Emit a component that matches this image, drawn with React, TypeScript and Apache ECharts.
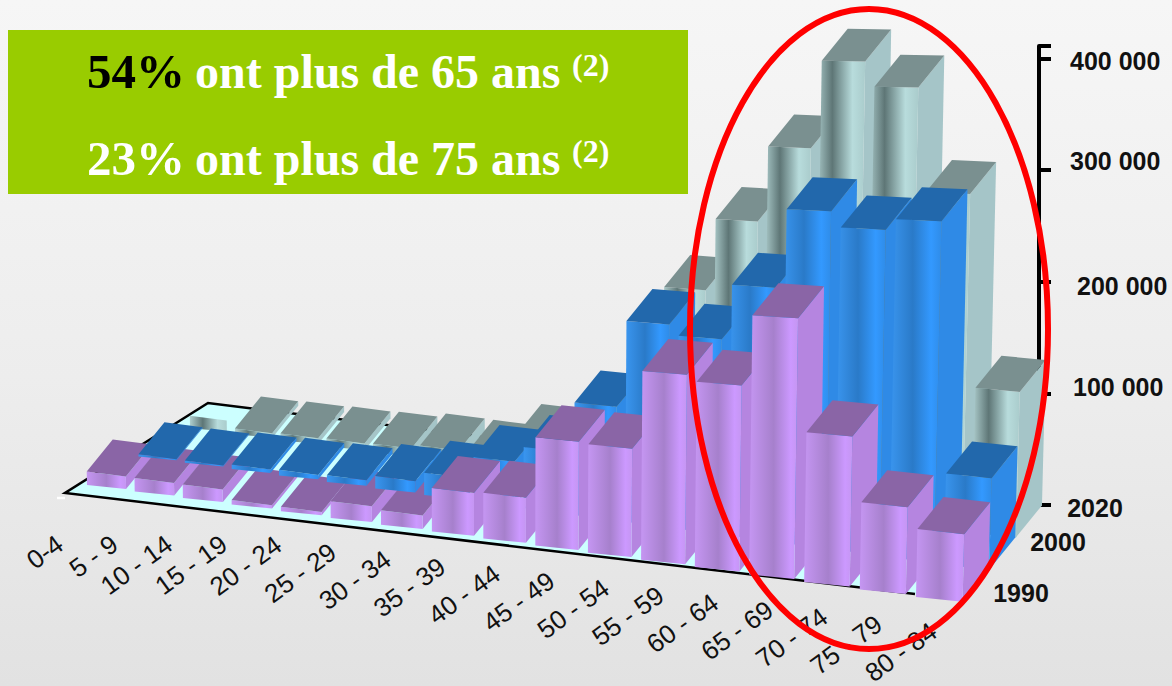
import React, { useEffect, useRef } from "react";
import * as echarts from "echarts";

const ageGroups = ["0-4", "5 - 9", "10 - 14", "15 - 19", "20 - 24", "25 - 29", "30 - 34", "35 - 39", "40 - 44", "45 - 49", "50 - 54", "55 - 59", "60 - 64", "65 - 69", "70 - 74", "75 - 79", "80 - 84"];
const values1990 = [12000, 12000, 12000, 4000, 4000, 15000, 13000, 39000, 41000, 97000, 97000, 169000, 166000, 232000, 134000, 78000, 61000];
const values2000 = [2000, 2000, 4000, 5000, 6000, 11000, 20000, 40000, 55000, 101000, 180000, 173000, 225000, 299000, 289000, 303000, 82000];
const values2020 = [11000, 5000, 6000, 7000, 8000, 12000, 12000, 32000, 50000, 86000, 183000, 250000, 321000, 404000, 387000, 299000, 130000];
const yearNames = ["1990", "2000", "2020"];
const valueTicks: Record<number, string> = { 100000: "100 000", 200000: "200 000", 300000: "300 000", 400000: "400 000" };

const SANS = '"Liberation Sans", Arial, sans-serif';
const SERIF = '"Liberation Serif", "Times New Roman", serif';

// Oblique 3D model of the floor: band index u and row r to a screen point
const F0 = [87, 485], F1 = [916, 597], B0 = [190, 428], B1 = [972, 533];
const DEPTH = [26, -32];
const warp = (t: number) => (t * (1 - 0.084)) / (1 - 0.084 * t);
const mix = (a: number[], b: number[], t: number) => [a[0] + (b[0] - a[0]) * t, a[1] + (b[1] - a[1]) * t];
const floorPoint = (u: number, r: number) => {
  const t = warp(u / 16);
  return mix(mix(F0, F1, t), mix(B0, B1, t), r / 2);
};
const lean = (p: number[], h: number) => [p[0] + (p[0] - 500) * h * 5e-5, p[1] - h];
const plus = (p: number[]) => [p[0] + DEPTH[0], p[1] + DEPTH[1]];

const vGrad = (stops: [number, string][]) =>
  new echarts.graphic.LinearGradient(0, 0, 1, 0, stops.map(([offset, color]) => ({ offset, color })));

const palettes = [
  {
    front: vGrad([[0, "#c596f2"], [0.5, "#a680cc"], [0.85, "#cc99ff"], [1, "#c596f2"]]),
    side: "#b585e0",
    top: "#8a65a6",
  },
  {
    front: vGrad([[0, "#3a96f0"], [0.45, "#2a7ac8"], [0.8, "#3399ff"], [1, "#2f8ce8"]]),
    side: "#2f8ae6",
    top: "#2268ac",
  },
  {
    front: vGrad([[0, "#b0d0d0"], [0.35, "#5e7676"], [0.75, "#b8dcdc"], [1, "#aacccc"]]),
    side: "#a5c5c8",
    top: "#7a9090",
  },
];

// row: 0 front (1990), 1 middle (2000), 2 back (2020); only indices in [from, to] are drawn by this pass
const barSeries = (row: number, values: number[], z: number, from = 0, to = 16) => ({
  type: "custom",
  name: yearNames[row],
  z,
  silent: true,
  encode: { x: 0, y: 1 },
  data: values.map((v, i) => [i, v]).filter((d) => d[0] >= from && d[0] <= to),
  renderItem: (_p: any, api: any) => {
    const i = api.value(0);
    const top = api.coord([i, api.value(1)]);
    const zero = api.coord([i, 0]);
    const band = api.size([1, 0])[0];
    const u = top[0] / band - 0.5;
    const h = zero[1] - top[1];
    const fl = floorPoint(u, row);
    const w = floorPoint(u + 0.82, row)[0] - fl[0];
    const fr = [fl[0] + w, fl[1] + w * 0.1];
    const slopeTop = Math.max(0.02, 0.13 - h * 0.00025);
    const tl = lean(fl, h);
    const trBase = [fl[0] + w, fl[1] + w * slopeTop];
    const tr = lean(trBase, h);
    const pal = palettes[row];
    const poly = (points: number[][], fill: any) => ({ type: "polygon", shape: { points }, style: { fill } });
    const frontFace = poly([fl, fr, tr, tl], pal.front);
    // the reference shows only a front face on the first 2020 bar
    if (row === 2 && i === 0) return { type: "group", children: [frontFace] };
    return {
      type: "group",
      children: [poly([fr, tr, plus(tr), plus(fr)], pal.side), frontFace, poly([tl, tr, plus(tr), plus(tl)], pal.top)],
    };
  },
});

const floorSeries = {
  type: "custom",
  z: 2,
  silent: true,
  data: [[0, 0]],
  encode: { x: 0, y: 1 },
  renderItem: () => ({
    type: "group",
    children: [
      { type: "polygon", shape: { points: [[65, 493], [208, 403], [1038, 505], [962, 600]] }, style: { fill: "#ccffff" } },
      { type: "polygon", shape: { points: [[1038, 505], [1026, 520], [990, 566], [1000, 500]] }, style: { fill: "#a5c5c8" } },
      { type: "polyline", shape: { points: [[915, 594], [65, 493], [208, 403], [1038, 505]] }, style: { fill: "none", stroke: "#000", lineWidth: 2.5 } },
      { type: "line", shape: { x1: 57, y1: 498, x2: 65, y2: 498 }, style: { stroke: "#fff", lineWidth: 2.5 } },
    ],
  }),
};

const ageLabelSeries = {
  type: "custom",
  z: 20,
  silent: true,
  encode: { x: 0, y: 1 },
  data: ageGroups.map((_, i) => [i, 0]),
  renderItem: (_p: any, api: any) => {
    const i = api.value(0);
    return {
      type: "text",
      x: 60 + 54.6 * i,
      y: Math.max(541, 513 + 7.2 * i),
      rotation: (36 * Math.PI) / 180,
      style: { text: ageGroups[i], fontFamily: SANS, fontSize: 26, fill: "#111", align: "right", verticalAlign: "middle" },
    };
  },
};

const headline = (x: number, y: number, text: string, fill: string, size = 48) => ({
  type: "text",
  x,
  y,
  z: 60,
  style: { text, fill, fontFamily: SERIF, fontWeight: "bold", fontSize: size, align: "left", verticalAlign: "middle" },
});
const yearLabel = (x: number, y: number, text: string) => ({
  type: "text",
  x,
  y,
  z: 30,
  style: { text, fill: "#111", fontFamily: SANS, fontWeight: "bold", fontSize: 25, align: "center", verticalAlign: "middle" },
});

export default function App() {
  const ref = useRef<HTMLDivElement>(null);
  useEffect(() => {
    document.body.style.margin = "0";
    const chart = echarts.init(ref.current!, undefined, { renderer: "svg" });
    chart.setOption({
      animation: false,
      grid: { left: 0, right: 133, top: 46, bottom: 181, containLabel: false },
      xAxis: { type: "category", data: ageGroups, show: false },
      yAxis: {
        type: "value",
        position: "right",
        min: 0,
        max: 411000,
        interval: 100000,
        splitLine: { show: false },
        axisLine: { show: true, lineStyle: { color: "#000", width: 4 } },
        axisTick: { show: true, length: 12, lineStyle: { color: "#000", width: 4 } },
        axisLabel: {
          margin: 31,
          formatter: (v: number) => {
            const t = valueTicks[v];
            return t ? `{k${v}|${t}}` : "";
          },
          rich: {
            k100000: { fontFamily: SANS, fontWeight: "bold", fontSize: 25, color: "#111", padding: [0, 0, 12, 3] },
            k200000: { fontFamily: SANS, fontWeight: "bold", fontSize: 25, color: "#111", padding: [8, 0, 0, 7] },
            k300000: { fontFamily: SANS, fontWeight: "bold", fontSize: 25, color: "#111", padding: [0, 0, 18, 0] },
            k400000: { fontFamily: SANS, fontWeight: "bold", fontSize: 25, color: "#111", padding: [6, 0, 0, 0] },
          },
        },
      },
      series: [
        floorSeries,
        barSeries(2, values2020, 5),
        barSeries(0, values1990, 6, 0, 6),
        barSeries(1, values2000, 7),
        barSeries(0, values1990, 8, 7, 16),
        ageLabelSeries,
      ],
      graphic: [
        { type: "rect", z: 50, shape: { x: 8, y: 30, width: 680, height: 164 }, style: { fill: "#99cc00" } },
        headline(87, 71, "54%", "#000", 49),
        headline(195, 71, "ont plus de 65 ans", "#fff"),
        headline(572, 65, "(2)", "#fff", 32),
        headline(87, 158, "23%", "#fff", 49),
        headline(195, 158, "ont plus de 75 ans", "#fff"),
        headline(572, 151, "(2)", "#fff", 32),
        yearLabel(1095, 508, yearNames[2]),
        yearLabel(1058, 542, yearNames[1]),
        yearLabel(1021, 593, yearNames[0]),
        {
          type: "ellipse",
          z: 40,
          shape: { cx: 869, cy: 329, rx: 179, ry: 320 },
          style: { fill: "none", stroke: "#ff0000", lineWidth: 6 },
        },
      ],
    });
    return () => chart.dispose();
  }, []);
  return (
    <div
      ref={ref}
      style={{ width: 1172, height: 686, background: "linear-gradient(180deg, #f6f6f6 0%, #ededed 55%, #e2e2e2 100%)" }}
    />
  );
}
